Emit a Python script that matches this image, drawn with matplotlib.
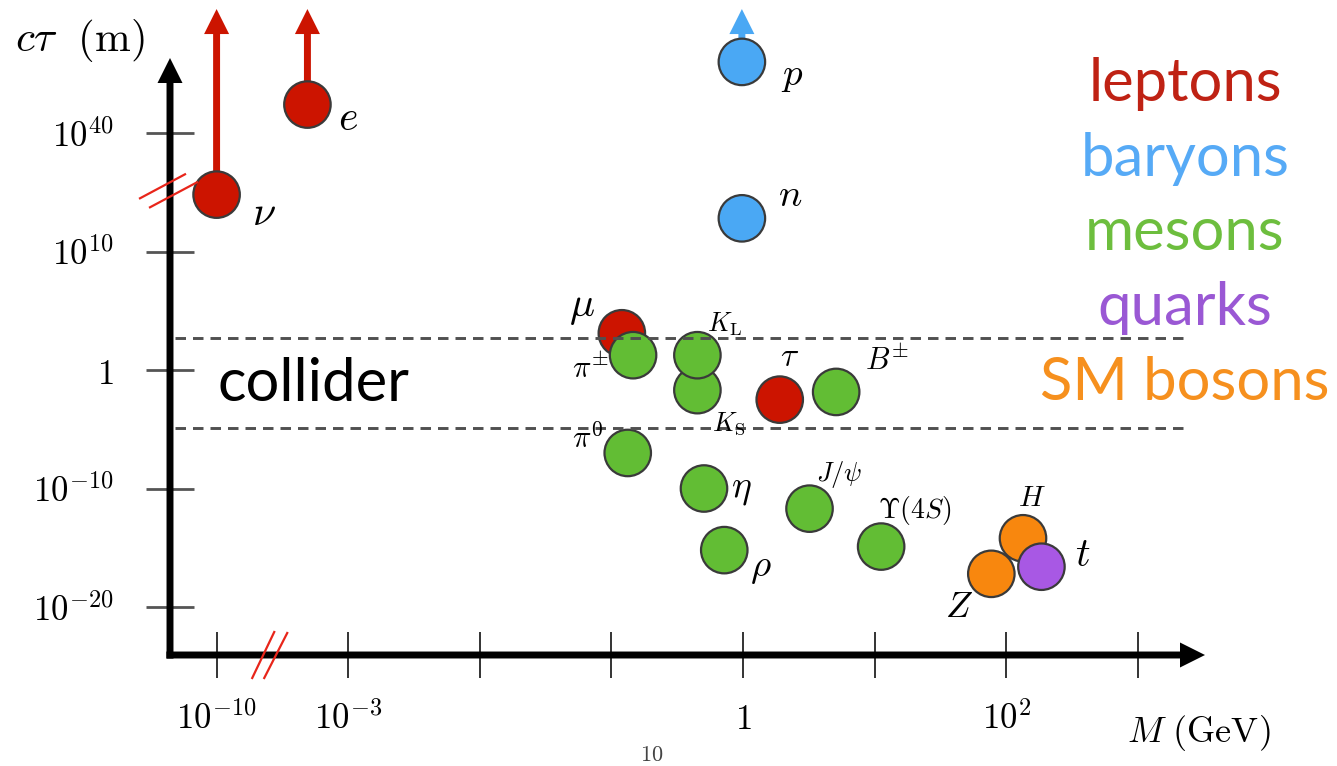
import numpy as np
import matplotlib
matplotlib.use("Agg")
import matplotlib.pyplot as plt
from matplotlib.lines import Line2D
from matplotlib.transforms import IdentityTransform

plt.rcParams['mathtext.fontset'] = 'cm'

# particles: mass in GeV, log10(c*tau / m)
names = [r'\nu', 'e', 'p', 'n', r'\mu', r'\pi^{\pm}', r'K_{\rm S}', r'K_{\rm L}',
         r'\tau', r'B^{\pm}', r'\pi^{0}', r'\eta', r'\rho', r'J/\psi',
         r'\Upsilon(4S)', 'Z', 'H', 't']
mass = [1e-10, 4.9e-4, 0.98, 0.98, 0.12, 0.146, 0.45, 0.45,
        1.9, 5.1, 0.133, 0.505, 0.72, 3.2, 11.2, 77, 134, 185]
log_ctau = [14.8, 42.4, 46.0, 12.8, 3.1, 1.25, -1.7, 1.25,
            -2.5, -1.85, -7.0, -10.0, -15.2, -11.7, -14.9, -17.2, -14.2, -16.6]
group = ['lepton', 'lepton', 'baryon', 'baryon', 'lepton', 'meson', 'meson', 'meson',
         'lepton', 'meson', 'meson', 'meson', 'meson', 'meson', 'meson',
         'boson', 'boson', 'quark']
stable = [r'\nu', 'e', 'p']          # only lower bounds -> arrow up
collider = [10**-4.9, 10**2.7]       # dashed band

xticks = [1e-10, 1e-3, 1e-2, 1e-1, 1, 10, 1e2, 1e3]
xticklabels = [r'$10^{-10}$', r'$10^{-3}$', '', '', r'$1$', '', r'$10^{2}$', '']
yticks = [1e-20, 1e-10, 1, 1e10, 1e40]
yticklabels = [r'$10^{-20}$', r'$10^{-10}$', r'$1$', r'$10^{10}$', r'$10^{40}$']

categories = ['leptons', 'baryons', 'mesons', 'quarks', 'SM bosons']
cat_colors = ['#BF2214', '#56AAF6', '#6DBE3E', '#9A58D4', '#F6901E']

dot_color = {'lepton': '#CC1400', 'baryon': '#4AA8F4', 'meson': '#62BD34',
             'quark': '#A858E4', 'boson': '#F8870E'}

# label offsets (pixels, y up) and font size
lab = {
    r'\nu': (47, -18, 30), 'e': (41, -13, 30), 'p': (50, -13, 28), 'n': (48, 23, 28),
    r'\mu': (-40, 27, 30), r'\pi^{\pm}': (-43, -14, 22), r'K_{\rm S}': (31, -33, 19),
    r'K_{\rm L}': (27, 31, 19), r'\tau': (10, 43, 24), r'B^{\pm}': (51, 31, 22),
    r'\pi^{0}': (-40, 15, 22), r'\eta': (37, 0, 27), r'\rho': (37, -17, 28),
    r'J/\psi': (30, 34, 19), r'\Upsilon(4S)': (34, 36, 20), 'Z': (-32, -33, 26),
    'H': (9, 40, 21), 't': (41, 12, 29),
}


# broken log axes
def fx(m):
    with np.errstate(divide='ignore', invalid='ignore'):
        L = np.log10(m)
    return np.where(L >= -3.5, L, np.where(L <= -9.7, L + 6, -3.7 + (L + 9.7) * 0.2 / 6.2))


def fx_inv(u):
    u = np.asarray(u, dtype=float)
    return 10 ** np.where(u >= -3.5, u, np.where(u <= -3.7, u - 6, -9.7 + (u + 3.7) * 6.2 / 0.2))


def fy(c):
    with np.errstate(divide='ignore', invalid='ignore'):
        L = np.log10(c)
    return np.where(L <= 15, L, np.where(L >= 35.5, L - 20, 15 + (L - 15) * 0.5 / 20.5))


def fy_inv(v):
    v = np.asarray(v, dtype=float)
    return 10 ** np.where(v <= 15, v, np.where(v >= 15.5, v + 20, 15 + (v - 15) * 20.5 / 0.5))


W, H = 1337, 766
fig = plt.figure(figsize=(W / 100, H / 100), dpi=100)
ax = fig.add_axes([170 / W, 111 / H, 1035 / W, 597 / H])
ax.set_xscale('function', functions=(fx, fx_inv))
ax.set_yscale('function', functions=(fy, fy_inv))

ctau = 10 ** np.array(log_ctau)
cols = [dot_color[g] for g in group]

# arrows for stable particles
for nm in stable:
    i = names.index(nm)
    ax.annotate('', xy=(mass[i], 1.082), xycoords=('data', 'axes fraction'),
                xytext=(mass[i], ctau[i]), textcoords='data',
                arrowprops=dict(arrowstyle='simple,head_length=1.8,head_width=1.8,tail_width=0.5',
                                mutation_scale=10, color=cols[i], lw=0, shrinkA=0, shrinkB=0),
                zorder=3, annotation_clip=False)

ax.scatter(mass, ctau, s=1120, c=cols, edgecolors='#3a3a3a', linewidths=1.6,
           zorder=4, clip_on=False)

for c in collider:
    ax.axhline(c, xmin=0.005, xmax=0.981, color='#505050', lw=2.1,
               ls=(0, (3.6, 2.4)), zorder=5)

for i, nm in enumerate(names):
    dx, dy, fs = lab[nm]
    ax.annotate('$' + nm + '$', xy=(mass[i], ctau[i]), xytext=(dx, dy),
                textcoords='offset pixels', ha='center', va='center',
                fontsize=fs, zorder=6, annotation_clip=False)

ax.set_xlim(10**-10.354, 10**3.51)
ax.set_ylim(10**-24.05, 10**46.33)

for s in ax.spines.values():
    s.set_visible(False)
ax.set_xticks(xticks, xticklabels)
ax.set_yticks(yticks, yticklabels)
ax.minorticks_off()
ax.tick_params(axis='x', direction='inout', length=33, width=1.4, color='#333333',
               pad=17, labelsize=25)
ax.tick_params(axis='y', direction='inout', length=35, width=2, color='#555555',
               pad=23, labelsize=25)
ax.patch.set_alpha(0)

# axis arrows
arrow = dict(arrowstyle='simple,head_length=1.8,head_width=1.8,tail_width=0.5',
             mutation_scale=10, color='k', lw=0, shrinkA=0, shrinkB=0)
ax.annotate('', xy=(1, 0), xycoords='axes fraction', xytext=(-0.0035, 0),
            arrowprops=arrow, annotation_clip=False, zorder=3)
ax.annotate('', xy=(0, 1), xycoords='axes fraction', xytext=(0, -0.006),
            arrowprops=arrow, annotation_clip=False, zorder=3)

# break marks
red = '#E8251A'
px, py = ax.transData.transform((ax.get_xlim()[0], 10**25.25))
for (a, b), (c, d) in [((-30, -9), (15, 15)), ((-20, -18), (27, 7))]:
    fig.add_artist(Line2D([px + a, px + c], [py + b, py + d], color=red, lw=1.6,
                          transform=IdentityTransform()))
qx, qy = ax.transData.transform((10**-6.6, ax.get_ylim()[0]))
for (a, b), (c, d) in [((-17, -23), (5, 23)), ((-5, -23), (18, 22))]:
    fig.add_artist(Line2D([qx + a, qx + c], [qy + b, qy + d], color=red, lw=1.6,
                          transform=IdentityTransform()))

# texts
fig.text(15 / W, 1 - 40 / H, r'$c\tau\ \ (\mathrm{m})$', fontsize=31, va='center', ha='left')
fig.text(1127 / W, 1 - 733 / H, r'$M\ (\mathrm{GeV})$', fontsize=26, va='center', ha='left')
fig.text(652 / W, 1 - 755 / H, r'$\mathrm{10}$', fontsize=16, va='center', ha='center',
         color='#444444')
fig.text(218 / W, 1 - 401 / H, 'collider', fontsize=43, family='Lato', va='baseline',
         ha='left')
for k, (name, col) in enumerate(zip(categories, cat_colors)):
    fig.text(1185 / W, 1 - (101 + 74.7 * k) / H, name, fontsize=43, family='Lato',
             color=col, ha='center', va='baseline')

fig.savefig('out.png', dpi=100)
